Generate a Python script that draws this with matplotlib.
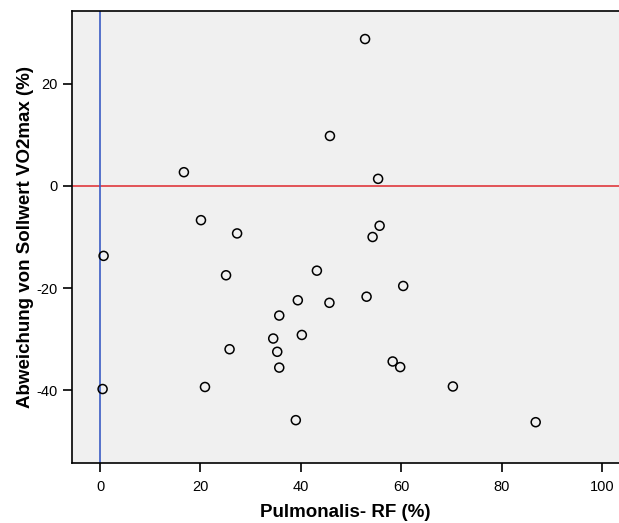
import matplotlib
matplotlib.use("Agg")
import matplotlib.pyplot as plt

plt.rcParams['font.family'] = ['Liberation Sans', 'DejaVu Sans']
plt.rcParams['axes.unicode_minus'] = False

# Pulmonalis-RF (%) vs. deviation from predicted VO2max (%)
rf = [52.8, 45.8, 16.7, 55.4, 20.1, 27.3, 55.7, 54.3, 0.7, 25.1,
      43.2, 60.4, 39.4, 45.7, 53.1, 35.7, 40.2, 34.5, 35.3, 25.8,
      35.7, 58.3, 59.8, 20.9, 0.5, 70.3, 39.0, 86.8]
abweichung = [28.8, 9.8, 2.7, 1.4, -6.7, -9.3, -7.8, -10.0, -13.7, -17.5,
              -16.6, -19.6, -22.4, -22.9, -21.7, -25.4, -29.2, -29.9, -32.5, -32.0,
              -35.6, -34.4, -35.5, -39.4, -39.8, -39.3, -45.9, -46.3]

xticks = [0, 20, 40, 60, 80, 100]
yticks = [-40, -20, 0, 20]

fig = plt.figure(figsize=(6.19, 5.23), dpi=100)
ax = fig.add_axes([0.1163, 0.1147, 0.8837, 0.8643])
ax.set_facecolor('#f0f0f0')

ax.axhline(0, color='#e0383c', lw=1.2, zorder=1)
ax.axvline(0, color='#3a5cc4', lw=1.2, zorder=1)
ax.scatter(rf, abweichung, s=42, facecolors='none', edgecolors='black',
           linewidths=1.1, zorder=3)

ax.set_xlim(-5.6, 103.4)
ax.set_ylim(-54.3, 34.3)
ax.set_xticks(xticks)
ax.set_yticks(yticks)
ax.tick_params(direction='out', length=6.5, width=1.2, labelsize=10.5, colors='black')
ax.tick_params(axis='x', pad=6)

for side in ['left', 'bottom', 'top']:
    ax.spines[side].set_linewidth(1.2)
ax.spines['right'].set_visible(False)

ax.set_xlabel('Pulmonalis- RF (%)', fontsize=13.5, fontweight='bold', labelpad=7)
ax.set_ylabel('Abweichung von Sollwert VO2max (%)', fontsize=13.5, fontweight='bold', labelpad=2)

fig.savefig('out.png', dpi=100)
